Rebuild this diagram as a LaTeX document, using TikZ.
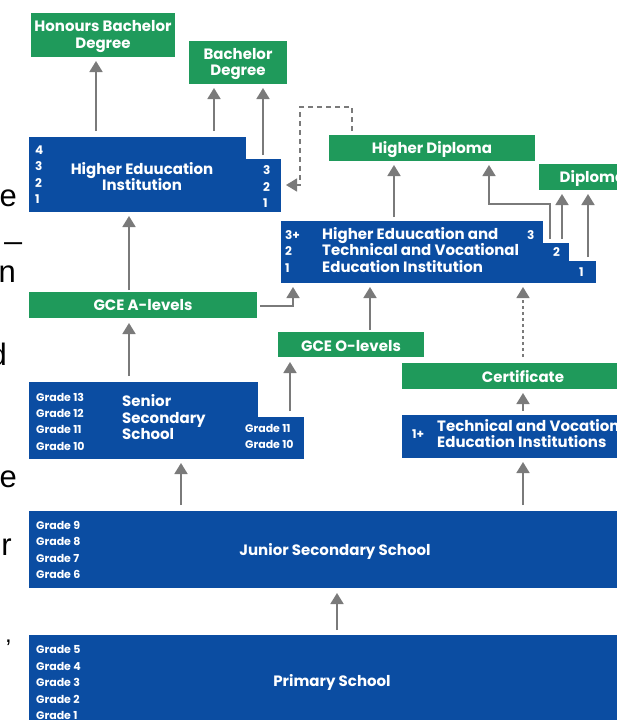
\documentclass[tikz,border=0pt]{standalone}
\usepackage{fontspec}
\IfFontExistsTF{Poppins Bold}{\setmainfont{Poppins}[BoldFont={Poppins Bold}]}{\setmainfont{Poppins}}
\newfontfamily\fragfont{Liberation Sans}
\usetikzlibrary{arrows.meta}
\definecolor{eblue}{HTML}{0B4DA2}
\definecolor{egreen}{HTML}{1F9A5B}
\definecolor{egrey}{HTML}{7A7A7A}
\begin{document}
\begin{tikzpicture}[x=1pt,y=-1pt,
  gbox/.style={fill=egreen, draw=none, anchor=north west, inner sep=0pt, outer sep=0pt},
  bbox/.style={fill=eblue, draw=none, anchor=north west, inner sep=0pt, outer sep=0pt},
  gtxt/.style={text=white, inner sep=0pt, align=center, yshift=-1.5pt, font=\bfseries\fontsize{15}{16.5}\selectfont},
  wtxt/.style={text=white, inner sep=0pt, yshift=-2pt, font=\bfseries\fontsize{15}{16.5}\selectfont},
  grd/.style={text=white, inner sep=0pt, anchor=mid west, yshift=-2pt, font=\bfseries\fontsize{11}{12}\selectfont},
  num/.style={text=white, inner sep=0pt, anchor=mid west, yshift=-2pt, font=\bfseries\fontsize{12}{14}\selectfont},
  arr/.style={draw=egrey, line width=1.8pt, -{Triangle[width=13pt,length=11pt]}},
  frag/.style={text=black, inner sep=0pt, anchor=base east, font=\fragfont\fontsize{31}{31}\selectfont}
]
\useasboundingbox (0,0) rectangle (617,720);
\clip (0,0) rectangle (617,720);

% left-edge text fragments
\node[frag] (f1) at (17,206) {e};
\node[frag] (f2) at (22,238) {\_};
\node[frag] (f3) at (16,282) {n};
\node[frag] (f4) at (7,365) {d};
\node[frag] (f5) at (17,487) {e};
\node[frag] (f6) at (12,555) {r};
\node[frag, font=\fragfont\fontsize{24}{24}\selectfont] (f7) at (12,642) {,};

% green boxes
\node[gbox, minimum width=144pt, minimum height=44pt] (hon) at (31,13) {};
\node[gbox, minimum width=98pt, minimum height=43pt] (bach) at (189,41) {};
\node[gbox, minimum width=206pt, minimum height=26pt] (hdip) at (329,135) {};
\node[gbox, minimum width=107pt, minimum height=26pt] (dip) at (539,164) {};
\node[gbox, minimum width=228pt, minimum height=26pt] (alev) at (29,292) {};
\node[gbox, minimum width=146pt, minimum height=25pt] (olev) at (278,332) {};
\node[gbox, minimum width=242pt, minimum height=26pt] (cert) at (402,363) {};
\node[gtxt] (hont) at (hon.center) {Honours Bachelor\\Degree};
\node[gtxt] (bacht) at (bach.center) {Bachelor\\Degree};
\node[gtxt] (hdipt) at (hdip.center) {Higher Diploma};
\node[gtxt] (dipt) at (dip.center) {Diploma};
\node[gtxt, yshift=1pt] (alevt) at (alev.center) {GCE A-levels};
\node[gtxt] (olevt) at (olev.center) {GCE O-levels};
\node[gtxt, yshift=1pt] (certt) at (cert.center) {Certificate};

% blue boxes
\node[bbox, minimum width=217pt, minimum height=75pt] (hei) at (29,137) {};
\node[bbox, minimum width=36pt, minimum height=53pt] (heis) at (245,159) {};
\node[bbox, minimum width=262pt, minimum height=62pt] (hetv) at (281,221) {};
\node[bbox, minimum width=27pt, minimum height=40pt] (hetv2) at (542,243) {};
\node[bbox, minimum width=28pt, minimum height=22pt] (hetv3) at (568,261) {};
\node[bbox, minimum width=229pt, minimum height=77pt] (sss) at (29,382) {};
\node[bbox, minimum width=47pt, minimum height=42pt] (ssss) at (257,417) {};
\node[bbox, minimum width=248pt, minimum height=43pt] (tvei) at (402,415) {};
\node[bbox, minimum width=621pt, minimum height=77pt] (jss) at (29,511) {};
\node[bbox, minimum width=621pt, minimum height=100pt] (prim) at (29,635) {};

% HEI text
\node[num] (h4) at (35,150) {4};
\node[num] (h3) at (35,166) {3};
\node[num] (h2) at (35,183) {2};
\node[num] (h1) at (35,199) {1};
\node[wtxt, anchor=mid] (heit1) at (142,170) {Higher Eduucation};
\node[wtxt, anchor=mid] (heit2) at (142,186) {Institution};
\node[num] (hr3) at (263,170) {3};
\node[num] (hr2) at (263,187) {2};
\node[num] (hr1) at (263,203) {1};

% HETVEI text
\node[num] (t3) at (285,235) {3+};
\node[num] (t2) at (285,251) {2};
\node[num] (t1) at (285,268) {1};
\node[wtxt, anchor=mid west] (tl1) at (322,235) {Higher Eduucation and};
\node[wtxt, anchor=mid west] (tl2) at (322,251) {Technical and Vocational};
\node[wtxt, anchor=mid west] (tl3) at (322,268) {Education Institution};
\node[num] (tr3) at (527,235) {3};
\node[num] (tr2) at (553,252) {2};
\node[num] (tr1) at (579,272) {1};

% Senior secondary text
\node[grd] (s13) at (36,397) {Grade 13};
\node[grd] (s12) at (36,413) {Grade 12};
\node[grd] (s11) at (36,429) {Grade 11};
\node[grd] (s10) at (36,446) {Grade 10};
\node[wtxt, anchor=mid west] (sst1) at (122,402) {Senior};
\node[wtxt, anchor=mid west] (sst2) at (122,419) {Secondary};
\node[wtxt, anchor=mid west] (sst3) at (122,435) {School};
\node[grd] (sr11) at (245,428) {Grade 11};
\node[grd] (sr10) at (245,444) {Grade 10};

% TVEI text
\node[num] (v1) at (412,434) {1+};
\node[wtxt, anchor=mid west] (vt1) at (437,427) {Technical and Vocational};
\node[wtxt, anchor=mid west] (vt2) at (437,443) {Education Institutions};

% Junior secondary text
\node[grd] (j9) at (36,525) {Grade 9};
\node[grd] (j8) at (36,541) {Grade 8};
\node[grd] (j7) at (36,558) {Grade 7};
\node[grd] (j6) at (36,574) {Grade 6};
\node[wtxt] (jt) at (335,549) {Junior Secondary School};

% Primary text
\node[grd] (p5) at (36,649) {Grade 5};
\node[grd] (p4) at (36,666) {Grade 4};
\node[grd] (p3) at (36,682) {Grade 3};
\node[grd] (p2) at (36,699) {Grade 2};
\node[grd] (p1) at (36,715) {Grade 1};
\node[wtxt] (pt) at (332,680) {Primary School};

% connectors
\draw[arr, shorten <=6pt, shorten >=4pt] (hei.north -| 96,0) -- (hon.south -| 96,0);
\draw[arr, shorten <=6pt, shorten >=4pt] (hei.north -| 214,0) -- (bach.south -| 214,0);
\draw[arr, shorten <=4pt, shorten >=4pt] (heis.north -| 263,0) -- (bach.south -| 263,0);
\coordinate (d1) at (352,107);
\coordinate (d2) at (300,107);
\coordinate (d3) at (300,185);
\draw[arr, dash pattern=on 5pt off 4pt, line width=1.5pt, shorten <=4pt, shorten >=5pt] (hdip.north -| d1) -- (d1) -- (d2) -- (d3) -- (heis.east |- d3);
\draw[arr, shorten <=4pt, shorten >=4pt] (hetv.north -| 394,0) -- (hdip.south -| 394,0);
\coordinate (e1) at (550,204);
\coordinate (e2) at (489,204);
\draw[arr, line width=1.6pt, shorten <=4pt, shorten >=4pt] (hetv2.north -| e1) -- (e1) -- (e2) -- (hdip.south -| e2);
\draw[arr, shorten <=4pt, shorten >=4pt] (hetv2.north -| 562,0) -- (dip.south -| 562,0);
\draw[arr, shorten <=4pt, shorten >=4pt] (hetv3.north -| 588,0) -- (dip.south -| 588,0);
\draw[arr, shorten <=2pt, shorten >=4pt] (alev.north -| 129,0) -- (hei.south -| 129,0);
\coordinate (a1) at (293,306);
\draw[arr, line width=1.6pt, shorten <=3pt, shorten >=4pt] (alev.east |- a1) -- (a1) -- (hetv.south -| a1);
\draw[arr, shorten <=6pt, shorten >=5pt] (sss.north -| 129,0) -- (alev.south -| 129,0);
\draw[arr, shorten <=2pt, shorten >=4pt] (olev.north -| 370,0) -- (hetv.south -| 370,0);
\draw[arr, shorten <=6pt, shorten >=5pt] (ssss.north -| 290,0) -- (olev.south -| 290,0);
\draw[arr, dash pattern=on 3pt off 3pt, line width=1.5pt, shorten <=6pt, shorten >=4pt] (cert.north -| 523,0) -- (hetv.south -| 523,0);
\draw[arr, shorten <=4pt, shorten >=4pt] (tvei.north -| 523,0) -- (cert.south -| 523,0);
\draw[arr, shorten <=6pt, shorten >=4pt] (jss.north -| 181,0) -- (sss.south -| 181,0);
\draw[arr, shorten <=6pt, shorten >=4pt] (jss.north -| 523,0) -- (tvei.south -| 523,0);
\draw[arr, shorten <=5pt, shorten >=5pt] (prim.north -| 337,0) -- (jss.south -| 337,0);
\end{tikzpicture}
\end{document}
